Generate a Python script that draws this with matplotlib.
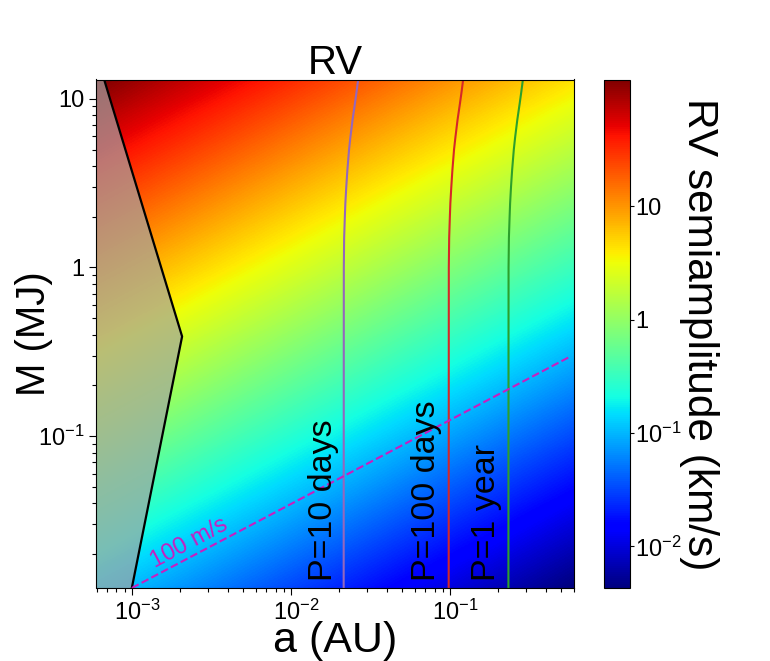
import numpy as np
import matplotlib
matplotlib.use('Agg')
import matplotlib.pyplot as plt
from matplotlib.cm import ScalarMappable
from matplotlib.colors import LogNorm
from matplotlib.transforms import ScaledTranslation

plt.rcParams['font.family'] = ['Liberation Sans', 'DejaVu Sans']
plt.rcParams['mathtext.fontset'] = 'custom'
plt.rcParams['mathtext.rm'] = 'Liberation Sans'
plt.rcParams['mathtext.default'] = 'regular'

# RV semiamplitude (km/s) read at the corners and thirds of the panel
a_nodes = [6e-4, 6e-3, 6e-2, 6e-1]
m_nodes = [0.0126, 0.127, 1.29, 13.0]
rv_nodes = [[0.131, 0.0415, 0.0131, 0.00415],
            [1.32, 0.418, 0.132, 0.0418],
            [13.4, 4.24, 1.34, 0.424],
            [135.0, 42.8, 13.5, 4.28]]
rv_min = 0.0043
rv_max = 131.0

# shaded region edge
edge_a = [6.7e-4, 2.07e-3, 1e-3]
edge_m = [13.0, 0.39, 0.0126]

# constant period curves
period_m = [0.0126, 1, 1.5, 2, 2.4, 3, 3.77, 5, 5.9, 7.5, 9.4, 11, 13]
a_10d = [0.02143, 0.02148, 0.02158, 0.0218, 0.02196, 0.02225, 0.02261,
         0.02317, 0.02361, 0.02437, 0.02524, 0.02583, 0.02643]
a_100d = [0.0979, 0.0981, 0.0986, 0.0996, 0.1003, 0.1017, 0.1033,
          0.1058, 0.1079, 0.1113, 0.1153, 0.118, 0.1207]
a_1yr = [0.2323, 0.2328, 0.234, 0.2364, 0.2381, 0.2412, 0.2451,
         0.2512, 0.256, 0.2642, 0.2736, 0.28, 0.2865]

# 100 m/s line
line_a = [1e-3, 0.574]
line_m = [0.0126, 0.298]

W, H = 770.0, 661.0
pos = [96.5 / W, (H - 588) / H, 477.5 / W, 508.5 / H]

fig = plt.figure(figsize=(7.7, 6.61), dpi=100)

# colour field goes in a plain log10 axes underneath so it blends in log space
bg = fig.add_axes(pos, zorder=0)
log_a = np.log10(a_nodes)
log_m = np.log10(m_nodes)
da = (log_a[-1] - log_a[0]) / (len(log_a) - 1) / 2
dm = (log_m[-1] - log_m[0]) / (len(log_m) - 1) / 2
bg.imshow(np.log10(rv_nodes), origin='lower', aspect='auto', cmap='jet',
          vmin=np.log10(rv_min), vmax=np.log10(rv_max),
          extent=(log_a[0] - da, log_a[-1] + da, log_m[0] - dm, log_m[-1] + dm),
          interpolation='bilinear', interpolation_stage='data')
bg.set_xlim(log_a[0], log_a[-1])
bg.set_ylim(log_m[0], log_m[-1])
bg.axis('off')

ax = fig.add_axes(pos, zorder=1)
ax.patch.set_alpha(0)
ax.set_xscale('log')
ax.set_yscale('log')
ax.set_xlim(a_nodes[0], a_nodes[-1])
ax.set_ylim(m_nodes[0], m_nodes[-1])

ax.fill_betweenx(edge_m, 1e-4, edge_a, color=(0.64, 0.64, 0.64), alpha=0.7, lw=0)
ax.plot(edge_a, edge_m, color='k', lw=1.6)

ax.plot(a_10d, period_m, color='#9467bd', lw=1.5)
ax.plot(a_100d, period_m, color='#d62728', lw=1.5)
ax.plot(a_1yr, period_m, color='#2ca02c', lw=1.5)
ax.plot(line_a, line_m, color='#c81ec0', lw=1.5, ls='--')

ax.text(0.0159, 0.0139, 'P=10 days', rotation=90, fontsize=24.5, ha='center', va='bottom')
ax.text(0.0715, 0.0139, 'P=100 days', rotation=90, fontsize=24.5, ha='center', va='bottom')
ax.text(0.168, 0.0139, 'P=1 year', rotation=90, fontsize=24.5, ha='center', va='bottom')
ax.text(0.00145, 0.0155, '100 m/s', rotation=28, color='#c81ec0', fontsize=17,
        ha='left', va='bottom', rotation_mode='anchor')

ax.set_xticks([1e-3, 1e-2, 1e-1])
ax.set_xticklabels(['$10^{-3}$', '$10^{-2}$', '$10^{-1}$'])
ax.set_yticks([0.1, 1, 10])
ax.set_yticklabels(['$10^{-1}$', '1', '10'])
ax.tick_params(which='major', labelsize=17, length=5, width=0.8)
ax.tick_params(which='minor', length=3, width=0.8, labelleft=False, labelbottom=False)
# the x labels sit a little right of their ticks in the original
nudge = ScaledTranslation(5 / 100, 0, fig.dpi_scale_trans)
for lab in ax.get_xticklabels():
    lab.set_transform(lab.get_transform() + nudge)
ax.set_xlabel('a (AU)', fontsize=31, labelpad=-3)
ax.set_ylabel('M (MJ)', fontsize=29, labelpad=-11)
ax.set_title('RV', fontsize=29, pad=4)

cax = fig.add_axes([603.5 / W, (H - 588) / H, 26 / W, 508.5 / H])
sm = ScalarMappable(norm=LogNorm(vmin=rv_min, vmax=rv_max), cmap='jet')
cb = fig.colorbar(sm, cax=cax)
cb.set_ticks([0.01, 0.1, 1, 10])
cb.set_ticklabels(['$10^{-2}$', '$10^{-1}$', '1', '10'])
cb.ax.minorticks_off()
cb.ax.tick_params(labelsize=17, length=3, width=0.8, pad=1)
cb.set_label('RV semiamplitude (km/s)', fontsize=30.5, rotation=270, labelpad=27)

fig.savefig('out.png', dpi=100)
